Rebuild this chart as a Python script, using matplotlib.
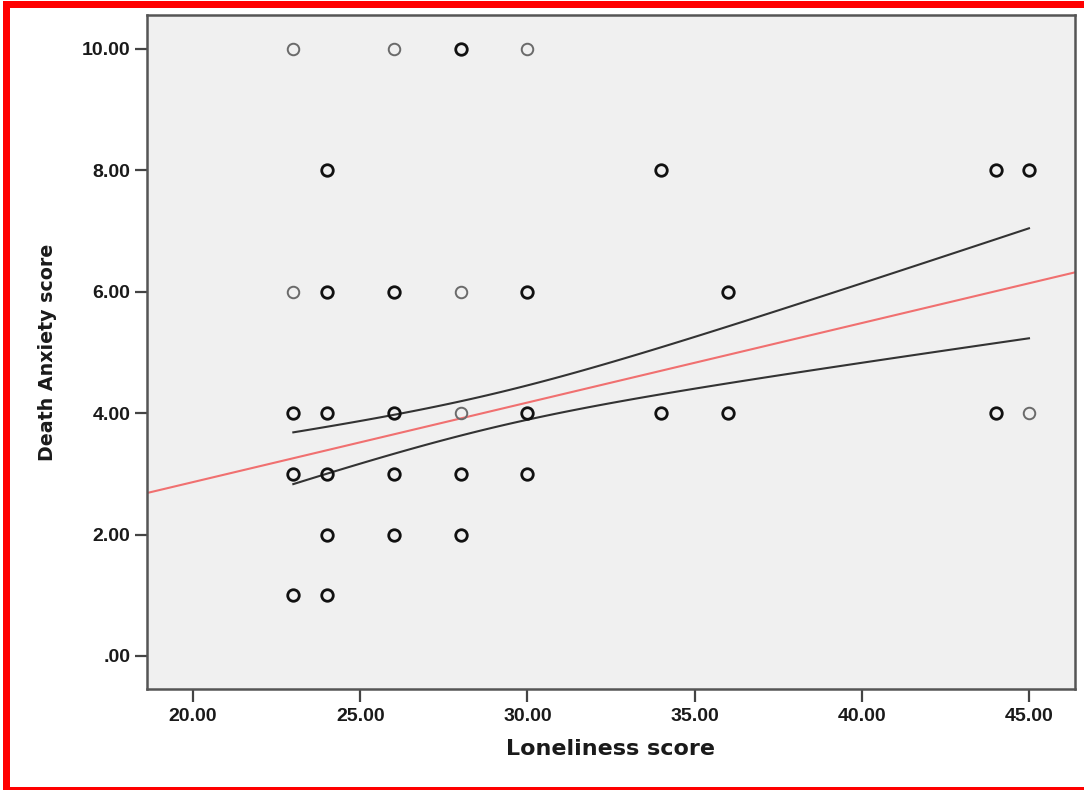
import numpy as np
import matplotlib
matplotlib.use("Agg")
import matplotlib.pyplot as plt
from matplotlib.patches import Rectangle

# ---- data ----
loneliness = [23, 23, 23, 23, 23,
              24, 24, 24, 24, 24, 24,
              26, 26, 26, 26, 26,
              28, 28, 28, 28, 28,
              30, 30, 30, 30,
              34, 34,
              36, 36,
              44, 44,
              45, 45]
death_anxiety = [10, 6, 4, 3, 1,
                 8, 6, 4, 3, 2, 1,
                 10, 6, 4, 3, 2,
                 10, 6, 4, 3, 2,
                 10, 6, 4, 3,
                 8, 4,
                 6, 4,
                 8, 4,
                 8, 4]
# 1 = single case (light circle), 2 = overlapping cases (dark circle)
overlap = [1, 1, 2, 2, 2,
           2, 2, 2, 2, 2, 2,
           1, 2, 2, 2, 2,
           2, 1, 1, 2, 2,
           1, 2, 2, 2,
           2, 2,
           2, 2,
           2, 2,
           2, 1]

# fit line and 95% mean confidence band parameters
fit_intercept = 0.245
fit_slope = 0.131
band_center = 29.0
band_a = 0.0771
band_b = 0.002906
band_range = [23, 45]

x_ticks = [20, 25, 30, 35, 40, 45]
y_ticks = [0, 2, 4, 6, 8, 10]
x_ticklabels = ["20.00", "25.00", "30.00", "35.00", "40.00", "45.00"]
y_ticklabels = [".00", "2.00", "4.00", "6.00", "8.00", "10.00"]

# ---- figure ----
W, H = 1084, 790
fig = plt.figure(figsize=(W / 100, H / 100), dpi=100)
fig.patch.set_facecolor("white")
ax = fig.add_axes([147 / W, 101 / H, 928 / W, 674 / H])
ax.set_facecolor("#f0f0f0")

ax.set_xlim(18.624, 46.376)
ax.set_ylim(-0.544, 10.56)

xs = np.array(loneliness, dtype=float)
ys = np.array(death_anxiety, dtype=float)
ov = np.array(overlap)

light = ov == 1
dark = ov == 2
ax.plot(xs[light], ys[light], linestyle="none", marker="o", markersize=8.3,
        markerfacecolor="none", markeredgecolor="#6a6a6a", markeredgewidth=1.4, zorder=3)
ax.plot(xs[dark], ys[dark], linestyle="none", marker="o", markersize=8.3,
        markerfacecolor="none", markeredgecolor="#111111", markeredgewidth=2.0, zorder=3)

# fit line across whole axis
xl = np.linspace(18.624, 46.376, 50)
ax.plot(xl, fit_intercept + fit_slope * xl, color="#f07070", linewidth=1.5, zorder=2)

# confidence band
xb = np.linspace(band_range[0], band_range[1], 100)
mean = fit_intercept + fit_slope * xb
half = np.sqrt(band_a + band_b * (xb - band_center) ** 2)
ax.plot(xb, mean + half, color="#333333", linewidth=1.5, zorder=2)
ax.plot(xb, mean - half, color="#333333", linewidth=1.5, zorder=2)

ax.set_xticks(x_ticks)
ax.set_xticklabels(x_ticklabels)
ax.set_yticks(y_ticks)
ax.set_yticklabels(y_ticklabels)

for lab in ax.get_xticklabels() + ax.get_yticklabels():
    lab.set_fontfamily(["Liberation Sans", "DejaVu Sans"])
    lab.set_fontweight("bold")
    lab.set_fontsize(14)
    lab.set_color("#1a1a1a")

ax.tick_params(axis="both", direction="out", length=9, width=1.6, color="#444444", pad=3)
ax.tick_params(axis="x", pad=5)

for sp in ax.spines.values():
    sp.set_color("#555555")
    sp.set_linewidth(1.8)

ax.set_xlabel("Loneliness score", fontfamily="DejaVu Sans", fontweight="bold",
              fontsize=16, color="#1a1a1a", labelpad=10)
ax.set_ylabel("Death Anxiety score", fontfamily="DejaVu Sans", fontweight="bold",
              fontsize=13.7, color="#1a1a1a", labelpad=18)

# red frame (top, left, bottom bands; right side is cut off in the picture)
red = "#ff0000"
fig.add_artist(Rectangle((3 / W, 1 - 8 / H), 1 - 3 / W, 7 / H, transform=fig.transFigure,
                         facecolor=red, edgecolor="none"))
fig.add_artist(Rectangle((3 / W, 0), 7 / W, 1 - 1 / H, transform=fig.transFigure,
                         facecolor=red, edgecolor="none"))
fig.add_artist(Rectangle((3 / W, 0), 1 - 3 / W, 3.5 / H, transform=fig.transFigure,
                         facecolor=red, edgecolor="none"))

fig.savefig("out.png", dpi=100)
